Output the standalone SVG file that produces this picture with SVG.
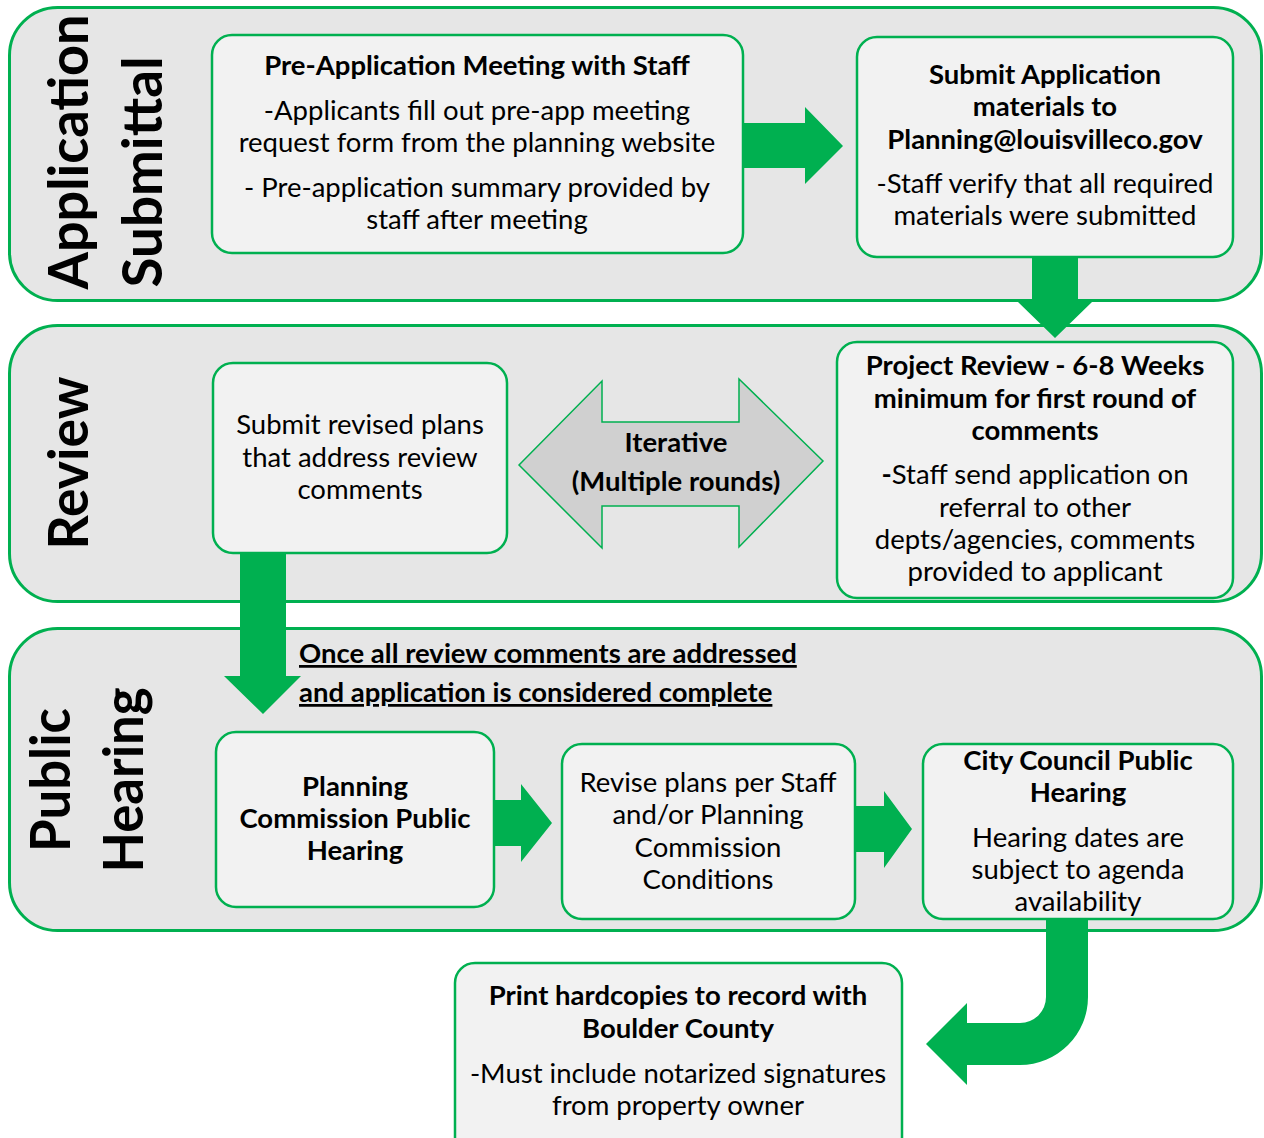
<svg xmlns="http://www.w3.org/2000/svg" width="1264" height="1138" viewBox="0 0 1264 1138">
<style>
.panel{fill:#e6e6e6;stroke:#00b050;stroke-width:3}
.box{fill:#f2f2f2;stroke:#00b050;stroke-width:2.5}
.arrow{fill:#00b050}
.dbl{fill:#d0d0d0;stroke:#00b050;stroke-width:1.5}
text{font-family:Lato,"Open Sans","Liberation Sans",sans-serif;fill:#000}
.t{font-size:27.5px;text-anchor:middle}
.b{font-weight:bold}
.lane{font-size:55px;font-weight:bold;text-anchor:middle}
.u{text-decoration:underline}
</style>
<rect width="1264" height="1138" fill="#fff"/>
<g id="lane-application">
<rect class="panel" x="9.5" y="7.5" width="1252" height="293" rx="48"/>
<text class="lane" transform="translate(88,152) rotate(-90)" textLength="275" lengthAdjust="spacingAndGlyphs">Application</text>
<text class="lane" transform="translate(162,172) rotate(-90)" textLength="231" lengthAdjust="spacingAndGlyphs">Submittal</text>
</g>
<g id="lane-review">
<rect class="panel" x="9.5" y="325.5" width="1252" height="276" rx="48"/>
<text class="lane" transform="translate(88,463) rotate(-90)" textLength="173" lengthAdjust="spacingAndGlyphs">Review</text>
</g>
<g id="lane-hearing">
<rect class="panel" x="9.5" y="628.5" width="1252" height="302" rx="48"/>
<text class="lane" transform="translate(70,780) rotate(-90)" textLength="144" lengthAdjust="spacingAndGlyphs">Public</text>
<text class="lane" transform="translate(143,780) rotate(-90)" textLength="185" lengthAdjust="spacingAndGlyphs">Hearing</text>
</g>
<g id="connectors">
<path class="arrow" d="M743,123 H805 V107 L843,146 L805,184 V168 H743 Z"/>
<path class="arrow" d="M1032,257 H1078 V302 H1092 L1055,338 L1018,302 H1032 Z"/>
<path class="arrow" d="M240,553 H286 V676 H301 L263,714 L224,676 H240 Z"/>
<path class="arrow" d="M494,800 L521,800 V784 L552,823 L521,862 V846 L494,846 Z"/>
<path class="arrow" d="M855,806 H884 V791 L912,829 L884,868 V852 H855 Z"/>
<path class="arrow" d="M1046,919 V997 A26,26 0 0 1 1020,1023 H967 V1003 L926,1044 L967,1085 V1065 H1020 A68,68 0 0 0 1088,997 V919 Z"/>
<g id="iterative">
<path class="dbl" d="M519,465 L602,381 V422 H739 V379 L823,461 L739,547 V506 H602 V548 Z"/>
<text class="t b" x="676" y="452">Iterative</text>
<text class="t b" x="676" y="491">(Multiple rounds)</text>
</g>
</g>
<g id="node-preapp">
<rect class="box" x="212" y="35" width="531" height="218" rx="20"/>
<text class="t b" x="477" y="75">Pre-Application Meeting with Staff</text>
<text class="t" x="477" y="120">-Applicants fill out pre-app meeting</text>
<text class="t" x="477" y="152">request form from the planning website</text>
<text class="t" x="477" y="197">- Pre-application summary provided by</text>
<text class="t" x="477" y="229">staff after meeting</text>
</g>
<g id="node-submit">
<rect class="box" x="857" y="37" width="376" height="220" rx="20"/>
<text class="t b" x="1045" y="84">Submit Application</text>
<text class="t b" x="1045" y="116">materials to</text>
<text class="t b" x="1045" y="149">Planning@louisvilleco.gov</text>
<text class="t" x="1045" y="193">-Staff verify that all required</text>
<text class="t" x="1045" y="225">materials were submitted</text>
</g>
<g id="node-revised">
<rect class="box" x="213" y="363" width="294" height="190" rx="20"/>
<text class="t" x="360" y="434">Submit revised plans</text>
<text class="t" x="360" y="467">that address review</text>
<text class="t" x="360" y="499">comments</text>
</g>
<g id="node-review">
<rect class="box" x="837" y="342" width="396" height="256" rx="20"/>
<text class="t b" x="1035" y="375">Project Review - 6-8 Weeks</text>
<text class="t b" x="1035" y="408">minimum for first round of</text>
<text class="t b" x="1035" y="440">comments</text>
<text class="t" x="1035" y="484"><tspan class="b">-</tspan>Staff send application on</text>
<text class="t" x="1035" y="517">referral to other</text>
<text class="t" x="1035" y="549">depts/agencies, comments</text>
<text class="t" x="1035" y="581">provided to applicant</text>
</g>
<g id="note-complete">
<text class="b u" x="299" y="663" font-size="27.5">Once all review comments are addressed</text>
<text class="b u" x="299" y="702" font-size="27.5">and application is considered complete</text>
</g>
<g id="node-pc">
<rect class="box" x="216" y="732" width="278" height="175" rx="20"/>
<text class="t b" x="355" y="796">Planning</text>
<text class="t b" x="355" y="828">Commission Public</text>
<text class="t b" x="355" y="860">Hearing</text>
</g>
<g id="node-revise">
<rect class="box" x="562" y="744" width="293" height="175" rx="20"/>
<text class="t" x="708" y="792">Revise plans per Staff</text>
<text class="t" x="708" y="824">and/or Planning</text>
<text class="t" x="708" y="857">Commission</text>
<text class="t" x="708" y="889">Conditions</text>
</g>
<g id="node-council">
<rect class="box" x="923" y="744" width="310" height="175" rx="20"/>
<text class="t b" x="1078" y="770">City Council Public</text>
<text class="t b" x="1078" y="802">Hearing</text>
<text class="t" x="1078" y="847">Hearing dates are</text>
<text class="t" x="1078" y="879">subject to agenda</text>
<text class="t" x="1078" y="911">availability</text>
</g>
<g id="node-print">
<rect class="box" x="455" y="963" width="447" height="200" rx="20"/>
<text class="t b" x="678" y="1005">Print hardcopies to record with</text>
<text class="t b" x="678" y="1038">Boulder County</text>
<text class="t" x="678" y="1083">-Must include notarized signatures</text>
<text class="t" x="678" y="1115">from property owner</text>
</g>
</svg>
